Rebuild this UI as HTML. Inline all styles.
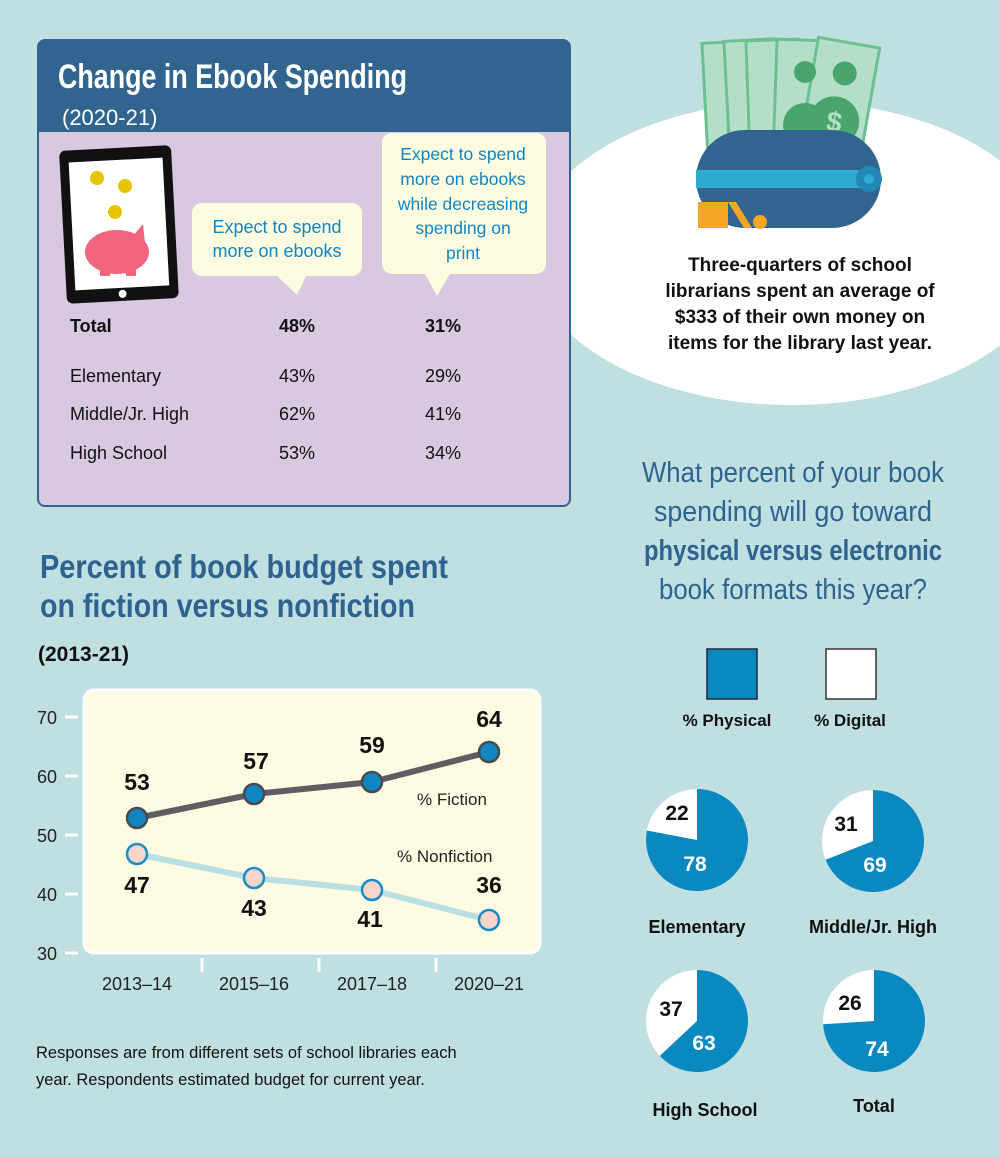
<!DOCTYPE html>
<html><head><meta charset="utf-8"><style>
html,body{margin:0;padding:0;background:#bfdfe0;}
svg{display:block;font-family:"Liberation Sans",sans-serif;}
</style></head><body>
<svg width="1000" height="1157" viewBox="0 0 1000 1157" xmlns="http://www.w3.org/2000/svg">
<rect width="1000" height="1157" fill="#bfdfe0"/>
<!-- ellipse -->
<ellipse cx="792" cy="253" rx="262" ry="152" fill="#ffffff"/>
<!-- money -->
<g stroke="#6cc08f" stroke-width="3" fill="#b3dfc8">
<rect x="705" y="42" width="50" height="110" transform="rotate(-3 730 100)"/>
<rect x="727" y="40" width="50" height="110" transform="rotate(-3 752 100)"/>
<rect x="748" y="40" width="52" height="110" transform="rotate(-2 774 100)"/>
<rect x="775" y="40" width="55" height="110" transform="rotate(2 800 100)"/>
<rect x="808" y="42" width="62" height="115" transform="rotate(10 840 100)"/>
</g>
<g transform="rotate(10 840 100)">
<circle cx="840" cy="73" r="12" fill="#4aa56c"/>
<circle cx="838" cy="122" r="25" fill="#4aa56c"/>
<text x="838" y="132" font-size="28" font-weight="bold" fill="#b3dfc8" text-anchor="middle">$</text>
</g>
<circle cx="805" cy="72" r="11" fill="#4aa56c"/>
<circle cx="805" cy="125" r="22" fill="#4aa56c"/>
<!-- wallet -->
<rect x="696" y="130" width="185" height="98" rx="49" fill="#31658f"/>
<rect x="696" y="170" width="165" height="18" fill="#2eabd0"/>
<circle cx="869" cy="179" r="13" fill="#2288b5"/>
<circle cx="869" cy="179" r="5" fill="#2eabd0"/>
<rect x="698" y="202" width="30" height="26" fill="#f5a623"/>
<polygon points="728,202 736,202 752,228 744,228" fill="#f5a623"/>
<circle cx="760" cy="222" r="7" fill="#f5a623"/>
<text x="800" y="271" font-size="19" font-weight="bold" fill="#111" text-anchor="middle">Three-quarters of school</text>
<text x="800" y="297" font-size="19" font-weight="bold" fill="#111" text-anchor="middle">librarians spent an average of</text>
<text x="800" y="323" font-size="19" font-weight="bold" fill="#111" text-anchor="middle">$333 of their own money on</text>
<text x="800" y="349" font-size="19" font-weight="bold" fill="#111" text-anchor="middle">items for the library last year.</text>

<!-- ebook box -->
<rect x="38" y="40" width="532" height="466" rx="7" fill="#d8c8e0" stroke="#31658f" stroke-width="2"/>
<path d="M38 132 V47 a7 7 0 0 1 7 -7 H563 a7 7 0 0 1 7 7 V132 Z" fill="#31658f"/>
<text x="58" y="88" font-size="34" font-weight="bold" fill="#fff" textLength="349" lengthAdjust="spacingAndGlyphs">Change in Ebook Spending</text>
<text x="62" y="125" font-size="22" fill="#fff">(2020-21)</text>
<!-- tablet -->
<g transform="rotate(-3 118 225)">
<rect x="63" y="148" width="112" height="153" rx="6" fill="#111"/>
<rect x="72" y="160" width="94" height="128" fill="#fff"/>
<circle cx="119" cy="294" r="4" fill="#fff"/>
</g>
<circle cx="97" cy="178" r="7" fill="#e8c300"/>
<circle cx="125" cy="186" r="7" fill="#e8c300"/>
<circle cx="115" cy="212" r="7" fill="#e8c300"/>
<ellipse cx="117" cy="252" rx="32" ry="22" fill="#f0647e"/>
<polygon points="133,236 143,224 145,244" fill="#f0647e"/>
<rect x="100" y="264" width="10" height="12" fill="#f0647e"/>
<rect x="126" y="264" width="10" height="12" fill="#f0647e"/>
<!-- callouts -->
<rect x="192" y="203" width="170" height="73" rx="10" fill="#fefce0"/>
<polygon points="275,274 307,274 297,295" fill="#fefce0"/>
<text x="277" y="233" font-size="18" fill="#1185c4" text-anchor="middle">Expect to spend</text>
<text x="277" y="257" font-size="18" fill="#1185c4" text-anchor="middle">more on ebooks</text>
<rect x="382" y="133" width="164" height="141" rx="10" fill="#fefce0"/>
<polygon points="424,272 451,272 437,296" fill="#fefce0"/>
<text x="463" y="160" font-size="17.5" fill="#1185c4" text-anchor="middle">Expect to spend</text>
<text x="463" y="185" font-size="17.5" fill="#1185c4" text-anchor="middle">more on ebooks</text>
<text x="463" y="210" font-size="17.5" fill="#1185c4" text-anchor="middle">while decreasing</text>
<text x="463" y="234" font-size="17.5" fill="#1185c4" text-anchor="middle">spending on</text>
<text x="463" y="259" font-size="17.5" fill="#1185c4" text-anchor="middle">print</text>
<g font-size="18" fill="#111">
<text x="70" y="332" font-weight="bold">Total</text>
<text x="297" y="332" font-weight="bold" text-anchor="middle">48%</text>
<text x="443" y="332" font-weight="bold" text-anchor="middle">31%</text>
<text x="70" y="382">Elementary</text><text x="297" y="382" text-anchor="middle">43%</text><text x="443" y="382" text-anchor="middle">29%</text>
<text x="70" y="420">Middle/Jr. High</text><text x="297" y="420" text-anchor="middle">62%</text><text x="443" y="420" text-anchor="middle">41%</text>
<text x="70" y="459">High School</text><text x="297" y="459" text-anchor="middle">53%</text><text x="443" y="459" text-anchor="middle">34%</text>
</g>

<!-- line chart titles -->
<text x="40" y="578" font-size="33" font-weight="bold" fill="#2e6390" textLength="408" lengthAdjust="spacingAndGlyphs">Percent of book budget spent</text>
<text x="40" y="617" font-size="33" font-weight="bold" fill="#2e6390" textLength="375" lengthAdjust="spacingAndGlyphs">on fiction versus nonfiction</text>
<text x="38" y="661" font-size="21" font-weight="bold" fill="#111">(2013-21)</text>
<rect x="84" y="690" width="456" height="263" rx="10" fill="#fdfbe1" stroke="#fff" stroke-width="3"/>
<g fill="#222" font-size="18" text-anchor="end">
<text x="57" y="724">70</text><text x="57" y="783">60</text><text x="57" y="842">50</text><text x="57" y="901">40</text><text x="57" y="960">30</text>
</g>
<g stroke="#fff" stroke-width="3">
<line x1="65" y1="717" x2="78" y2="717"/><line x1="65" y1="776" x2="78" y2="776"/><line x1="65" y1="835" x2="78" y2="835"/><line x1="65" y1="894" x2="78" y2="894"/><line x1="65" y1="953" x2="78" y2="953"/>
<line x1="202" y1="958" x2="202" y2="972"/><line x1="319" y1="958" x2="319" y2="972"/><line x1="436" y1="958" x2="436" y2="972"/>
</g>
<g font-size="18" fill="#222" text-anchor="middle">
<text x="137" y="990">2013–14</text><text x="254" y="990">2015–16</text><text x="372" y="990">2017–18</text><text x="489" y="990">2020–21</text>
</g>
<polyline points="137,854 254,878 372,890 489,920" fill="none" stroke="#b9dfe3" stroke-width="6"/>
<g fill="#f9d4c8" stroke="#1a8cc6" stroke-width="2.5">
<circle cx="137" cy="854" r="10"/><circle cx="254" cy="878" r="10"/><circle cx="372" cy="890" r="10"/><circle cx="489" cy="920" r="10"/>
</g>
<polyline points="137,818 254,794 372,782 489,752" fill="none" stroke="#5e5e62" stroke-width="6"/>
<g fill="#0f86c2" stroke="#4a4a50" stroke-width="2.5">
<circle cx="137" cy="818" r="10"/><circle cx="254" cy="794" r="10"/><circle cx="372" cy="782" r="10"/><circle cx="489" cy="752" r="10"/>
</g>
<g font-size="23" font-weight="bold" fill="#111" text-anchor="middle">
<text x="137" y="790">53</text><text x="256" y="769">57</text><text x="372" y="753">59</text><text x="489" y="727">64</text>
<text x="137" y="893">47</text><text x="254" y="916">43</text><text x="370" y="927">41</text><text x="489" y="893">36</text>
</g>
<text x="417" y="805" font-size="17" fill="#222">% Fiction</text>
<text x="397" y="862" font-size="17" fill="#222">% Nonfiction</text>
<text x="36" y="1058" font-size="16.5" fill="#111">Responses are from different sets of school libraries each</text>
<text x="36" y="1085" font-size="16.5" fill="#111">year. Respondents estimated budget for current year.</text>

<!-- question -->
<g font-size="29" fill="#2e6390" text-anchor="middle">
<text x="793" y="482" textLength="302" lengthAdjust="spacingAndGlyphs">What percent of your book</text>
<text x="793" y="521" textLength="278" lengthAdjust="spacingAndGlyphs">spending will go toward</text>
<text x="793" y="560" font-weight="bold" textLength="298" lengthAdjust="spacingAndGlyphs">physical versus electronic</text>
<text x="793" y="599" textLength="268" lengthAdjust="spacingAndGlyphs">book formats this year?</text>
</g>
<rect x="707" y="649" width="50" height="50" fill="#0a88c0" stroke="#1a2a3a" stroke-width="1.5"/>
<rect x="826" y="649" width="50" height="50" fill="#fff" stroke="#333" stroke-width="1.5"/>
<text x="727" y="726" font-size="17" font-weight="bold" fill="#111" text-anchor="middle">% Physical</text>
<text x="850" y="726" font-size="17" font-weight="bold" fill="#111" text-anchor="middle">% Digital</text>

<!-- pies -->
<g>
<circle cx="697" cy="840" r="51" fill="#fff"/>
<path d="M697 840 L697 789 A51 51 0 1 1 646.9 830.5 Z" fill="#0a88c0"/>
<circle cx="873" cy="841" r="51" fill="#fff"/>
<path d="M873 841 L873 790 A51 51 0 1 1 825.6 859.8 Z" fill="#0a88c0"/>
<circle cx="697" cy="1021" r="51" fill="#fff"/>
<path d="M697 1021 L697 970 A51 51 0 1 1 659.8 1055.9 Z" fill="#0a88c0"/>
<circle cx="874" cy="1021" r="51" fill="#fff"/>
<path d="M874 1021 L874 970 A51 51 0 1 1 823.1 1024.2 Z" fill="#0a88c0"/>
</g>
<g font-size="21" font-weight="bold" text-anchor="middle">
<text x="677" y="820" fill="#111">22</text><text x="695" y="871" fill="#fff">78</text>
<text x="846" y="831" fill="#111">31</text><text x="875" y="872" fill="#fff">69</text>
<text x="671" y="1016" fill="#111">37</text><text x="704" y="1050" fill="#fff">63</text>
<text x="850" y="1010" fill="#111">26</text><text x="877" y="1056" fill="#fff">74</text>
</g>
<g font-size="18" font-weight="bold" fill="#111" text-anchor="middle">
<text x="697" y="933">Elementary</text><text x="873" y="933">Middle/Jr. High</text>
<text x="705" y="1116">High School</text><text x="874" y="1112">Total</text>
</g>
</svg>
</body></html>
